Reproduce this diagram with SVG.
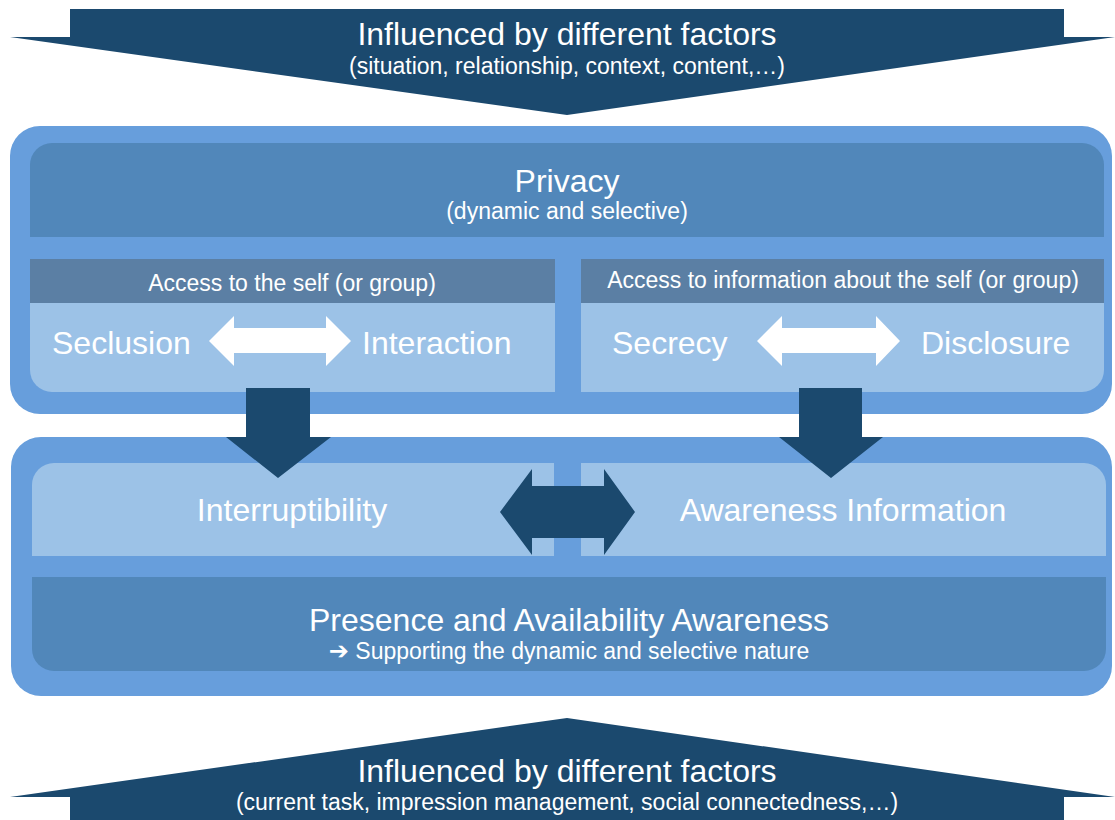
<svg xmlns="http://www.w3.org/2000/svg" width="1115" height="820" viewBox="0 0 1115 820">
  <style>
    .navy { fill: #1b496e; }
    .outer { fill: #679edc; }
    .mid { fill: #5187ba; }
    .band { fill: #5b7fa4; }
    .light { fill: #9cc2e7; }
    .white { fill: #ffffff; }
    text { font-family: "Liberation Sans", Arial, sans-serif; fill: #ffffff; }
    .big { font-size: 32px; }
    .small { font-size: 23px; }
    .mid-t { text-anchor: middle; }
  </style>

  <rect width="1115" height="820" fill="#ffffff"/>

  <!-- top banner: factors acting on privacy -->
  <g id="factors-top">
    <polygon class="navy" points="70,9 1064,9 1064,37 1115,37 567,115 10,37 70,37"/>
    <text class="big mid-t" x="567" y="45">Influenced by different factors</text>
    <text class="small mid-t" x="567" y="74">(situation, relationship, context, content,…)</text>
  </g>

  <!-- privacy container -->
  <g id="privacy">
    <rect class="outer" x="10" y="126" width="1102" height="288" rx="30"/>
    <path class="mid" d="M30,237 V165 A22,22 0 0 1 52,143 H1082 A22,22 0 0 1 1104,165 V237 Z"/>
    <text class="big mid-t" x="567" y="192">Privacy</text>
    <text class="small mid-t" x="567" y="219">(dynamic and selective)</text>
  </g>

  <g id="access-self">
    <rect class="band" x="30" y="259" width="525" height="44"/>
    <path class="light" d="M30,303 H555 V392 H52 A22,22 0 0 1 30,370 Z"/>
    <text class="small mid-t" x="292" y="291">Access to the self (or group)</text>
    <text class="big" x="52" y="354">Seclusion</text>
    <text class="big" x="362" y="354">Interaction</text>
  </g>

  <g id="access-info">
    <rect class="band" x="581" y="259" width="523" height="44"/>
    <path class="light" d="M581,303 H1104 V370 A22,22 0 0 1 1082,392 H581 Z"/>
    <text class="small mid-t" x="843" y="288">Access to information about the self (or group)</text>
    <text class="big" x="612" y="354">Secrecy</text>
    <text class="big" x="921" y="354">Disclosure</text>
  </g>

  <!-- awareness container -->
  <g id="awareness">
    <rect class="outer" x="11" y="437" width="1101" height="259" rx="30"/>
  </g>

  <g id="interruptibility">
    <path class="light" d="M32,556 V485 A22,22 0 0 1 54,463 H554 V556 Z"/>
    <text class="big mid-t" x="292" y="521">Interruptibility</text>
  </g>

  <g id="awareness-information">
    <path class="light" d="M581,556 V463 H1084 A22,22 0 0 1 1106,485 V556 Z"/>
    <text class="big mid-t" x="843" y="521">Awareness Information</text>
  </g>

  <g id="presence">
    <path class="mid" d="M32,577 H1106 V649 A22,22 0 0 1 1084,671 H54 A22,22 0 0 1 32,649 Z"/>
    <text class="big mid-t" x="569" y="631">Presence and Availability Awareness</text>
    <text class="small mid-t" x="569" y="659"><tspan font-family="'DejaVu Sans', sans-serif" font-size="24" font-weight="bold">➔</tspan> Supporting the dynamic and selective nature</text>
  </g>

  <!-- bottom banner: factors acting on awareness -->
  <g id="factors-bottom">
    <polygon class="navy" points="567,718 1115,797 1064,797 1064,820 70,820 70,797 10,797"/>
    <text class="big mid-t" x="567" y="782">Influenced by different factors</text>
    <text class="small mid-t" x="567" y="810">(current task, impression management, social connectedness,…)</text>
  </g>

  <!-- connectors -->
  <g id="connectors">
    <!-- two-way ranges inside the privacy panels -->
    <polygon class="white" points="209,341 234,316 234,328 326,328 326,316 351,341 326,366 326,353 234,353 234,366"/>
    <polygon class="white" points="757,341 782,316 782,328 876,328 876,316 900,341 876,366 876,353 782,353 782,366"/>
    <!-- privacy feeds the awareness row -->
    <polygon class="navy" points="246,388 310,388 310,437 331,437 278,478 226,437 246,437"/>
    <polygon class="navy" points="799,388 862,388 862,437 883,437 831,478 779,437 799,437"/>
    <!-- interruptibility and awareness information trade off -->
    <polygon class="navy" points="500,512 532,469 532,486 604,486 604,469 635,512 604,555 604,538 532,538 532,555"/>
  </g>
</svg>
